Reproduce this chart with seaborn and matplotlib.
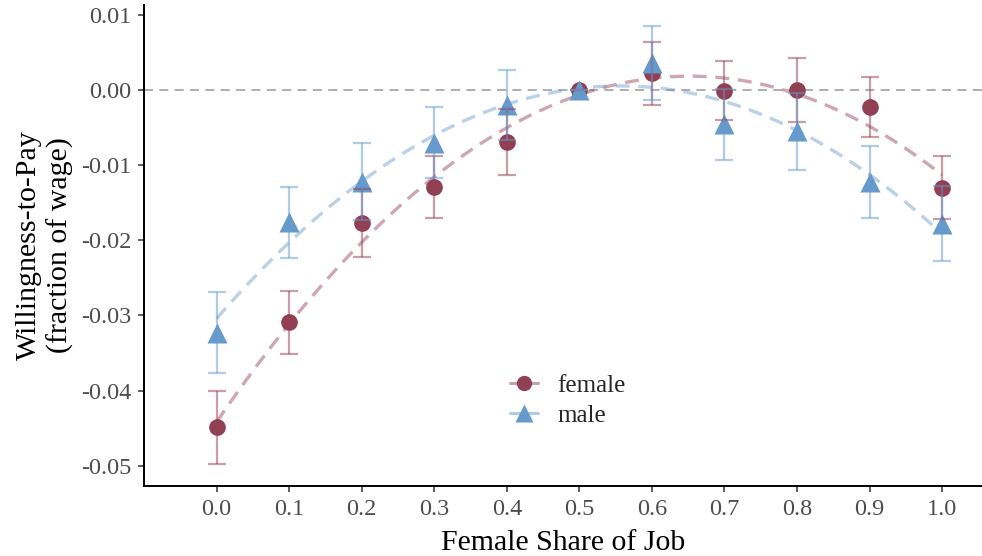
import numpy as np
import pandas as pd
import seaborn as sns
import matplotlib.pyplot as plt
from matplotlib.lines import Line2D

# data
share = [0.0, 0.1, 0.2, 0.3, 0.4, 0.5, 0.6, 0.7, 0.8, 0.9, 1.0]
female_wtp = [-0.0449, -0.0309, -0.0177, -0.0129, -0.0069, 0.0, 0.0022, -0.0001, 0.0000, -0.0023, -0.0130]
female_se = [0.0049, 0.0042, 0.0045, 0.0041, 0.0044, 0.0, 0.0042, 0.0039, 0.0043, 0.0040, 0.0042]
male_wtp = [-0.0323, -0.0176, -0.0122, -0.0070, -0.0020, 0.0, 0.0036, -0.0046, -0.0055, -0.0123, -0.0178]
male_se = [0.0054, 0.0047, 0.0051, 0.0047, 0.0047, 0.0, 0.0049, 0.0047, 0.0051, 0.0048, 0.0050]

groups = ["female", "male"]
colores = {"female": "#913f52", "male": "#6699cc"}
claros = {"female": "#c89fa8", "male": "#b2cce5"}
marcas = {"female": "o", "male": "^"}
tamanos = {"female": 12, "male": 14}

base = pd.concat([
    pd.DataFrame({"share": share, "wtp": female_wtp, "se": female_se, "gender": "female"}),
    pd.DataFrame({"share": share, "wtp": male_wtp, "se": male_se, "gender": "male"}),
])

sns.set_style("ticks")
plt.rcParams["font.family"] = ["Liberation Serif", "DejaVu Serif"]

fig = plt.figure(figsize=(9.82, 5.56), dpi=100)
ax = fig.add_axes([144 / 982, 1 - 486 / 556, 1 - 144 / 982, 481 / 556])

ax.axhline(0, color="#a8a8a8", lw=1.3, dashes=(5, 3.5), zorder=1)

for g in groups:
    d = base[base["gender"] == g]
    # ajuste cuadratico, discontinuo
    sns.regplot(data=d, x="share", y="wtp", order=2, ci=None, scatter=False, ax=ax,
                line_kws=dict(color=colores[g], alpha=0.45, lw=2.4, dashes=(4.2, 2.6), zorder=2))
    ax.plot(d["share"], d["wtp"], ls="none", marker=marcas[g], ms=tamanos[g],
            color=colores[g], mec="none", zorder=3)
    ax.errorbar(d["share"], d["wtp"], yerr=d["se"], fmt="none", ecolor=colores[g],
                alpha=0.5, elinewidth=1.6, capsize=6.5, capthick=1.6, zorder=4)

ax.set_xlim(-0.1, 1.055)
ax.set_ylim(-0.0527, 0.0113)
ax.set_xticks(share)
ax.set_xticklabels([f"{v:.1f}" for v in share])
ax.set_yticks([0.01, 0.0, -0.01, -0.02, -0.03, -0.04, -0.05])
ax.set_yticklabels(["0.01", "0.00", "-0.01", "-0.02", "-0.03", "-0.04", "-0.05"])

ax.tick_params(axis="both", labelsize=17.5, labelcolor="#4d4d4d", color="#333333",
               length=4, width=1.1)
ax.tick_params(axis="x", pad=5.5)
ax.tick_params(axis="y", pad=5)
for s in ["top", "right"]:
    ax.spines[s].set_visible(False)
for s in ["left", "bottom"]:
    ax.spines[s].set_linewidth(1.4)
    ax.spines[s].set_color("black")

ax.set_xlabel("Female Share of Job", fontsize=21.5, labelpad=7, color="black")
ax.set_ylabel("Willingness-to-Pay\n(fraction of wage)", fontsize=21.5, labelpad=5,
              linespacing=1.25, color="black")

handles = [
    Line2D([], [], color=claros[g], lw=2.2, marker=marcas[g], ms=tamanos[g] - 1,
           markerfacecolor=colores[g], mec="none", label=g)
    for g in groups
]
leg = ax.legend(handles=handles, loc="center left", bbox_to_anchor=(0.4368, 0.178),
                frameon=False, fontsize=18, handlelength=1.12, handletextpad=0.76,
                labelspacing=0.3, borderpad=0, borderaxespad=0)

fig.savefig("out.png", dpi=100)
